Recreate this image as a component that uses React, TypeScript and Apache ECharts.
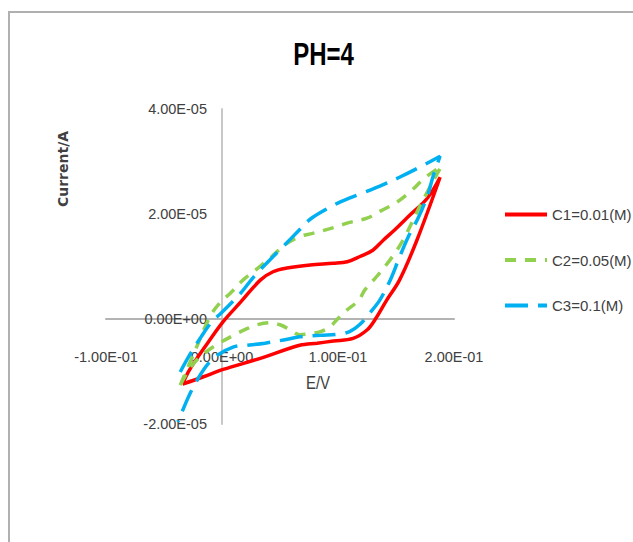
import React, { useEffect, useRef } from "react";
import * as echarts from "echarts";

// ---- data (potential in V, current in A) ----
const xTicks = [-0.1, 0, 0.1, 0.2];
const yTicks = [-2e-5, 0, 2e-5, 4e-5];

const seriesNames = ["C1=0.01(M)", "C2=0.05(M)", "C3=0.1(M)"];

const c1Potential = [
  -0.034, -0.028, -0.014, 0.001, 0.016, 0.033, 0.044, 0.056, 0.076, 0.096, 0.108, 0.119, 0.13, 0.139, 0.149, 0.162, 0.177, 0.188,
  0.168, 0.153, 0.142, 0.132, 0.125, 0.113, 0.096, 0.082, 0.067, 0.033, 0.001, -0.016, -0.034,
];
const c1Current = [
  -1.24e-5, -0.97e-5, -0.51e-5, -0.05e-5, 0.32e-5, 0.74e-5, 0.9e-5, 0.97e-5, 1.03e-5, 1.06e-5, 1.09e-5, 1.19e-5, 1.31e-5, 1.5e-5, 1.7e-5, 1.98e-5, 2.3e-5, 2.7e-5,
  1.5e-5, 0.74e-5, 0.36e-5, -0.01e-5, -0.21e-5, -0.37e-5, -0.42e-5, -0.46e-5, -0.5e-5, -0.75e-5, -0.96e-5, -1.1e-5, -1.24e-5,
];

const c2Potential = [
  -0.036, -0.023, -0.01, -0.002, 0.008, 0.018, 0.031, 0.043, 0.054, 0.067, 0.078, 0.096, 0.11, 0.125, 0.137, 0.151, 0.162, 0.175, 0.189,
  0.172, 0.156, 0.146, 0.133, 0.123, 0.118, 0.106, 0.1, 0.093, 0.085, 0.076, 0.067, 0.059, 0.05, 0.041, 0.03, 0.022, 0.01, -0.006, -0.019, -0.028, -0.036,
];
const c2Current = [
  -1.26e-5, -0.59e-5, 0.06e-5, 0.3e-5, 0.51e-5, 0.74e-5, 0.97e-5, 1.19e-5, 1.41e-5, 1.57e-5, 1.63e-5, 1.74e-5, 1.84e-5, 1.92e-5, 2.06e-5, 2.23e-5, 2.42e-5, 2.69e-5, 2.91e-5,
  2.21e-5, 1.5e-5, 1.16e-5, 0.8e-5, 0.55e-5, 0.36e-5, 0.14e-5, 0.01e-5, -0.15e-5, -0.24e-5, -0.28e-5, -0.3e-5, -0.21e-5, -0.11e-5, -0.07e-5, -0.11e-5, -0.18e-5, -0.31e-5, -0.51e-5, -0.72e-5, -0.95e-5, -1.26e-5,
];

const c3Potential = [
  -0.036, -0.028, -0.018, -0.009, 0.0, 0.016, 0.028, 0.041, 0.054, 0.066, 0.076, 0.089, 0.102, 0.119, 0.136, 0.153, 0.171, 0.188,
  0.182, 0.177, 0.169, 0.16, 0.152, 0.145, 0.136, 0.128, 0.119, 0.11, 0.1, 0.085, 0.067, 0.053, 0.037, 0.022, 0.01, -0.006, -0.016, -0.026, -0.032, -0.038,
];
const c3Current = [
  -1.01e-5, -0.69e-5, -0.34e-5, -0.06e-5, 0.13e-5, 0.49e-5, 0.82e-5, 1.12e-5, 1.41e-5, 1.68e-5, 1.9e-5, 2.08e-5, 2.23e-5, 2.38e-5, 2.53e-5, 2.7e-5, 2.9e-5, 3.1e-5,
  2.72e-5, 2.34e-5, 1.92e-5, 1.54e-5, 1.12e-5, 0.74e-5, 0.36e-5, 0.13e-5, -0.1e-5, -0.24e-5, -0.29e-5, -0.31e-5, -0.34e-5, -0.4e-5, -0.46e-5, -0.5e-5, -0.53e-5, -0.72e-5, -0.97e-5, -1.35e-5, -1.64e-5, -1.96e-5,
];

const FONT = "'Liberation Sans', Arial, sans-serif";

function fmt(v: number): string {
  if (Math.abs(v) < 1e-15) return "0.00E+00";
  const s = v.toExponential(2);
  const [m, e] = s.split("e");
  const sign = e[0] === "-" ? "-" : "+";
  const digits = e.replace(/[+-]/, "").padStart(2, "0");
  return `${m}E${sign}${digits}`;
}

function pairs(xs: number[], ys: number[]) {
  return xs.map((x, i) => [x, ys[i]]);
}

export default function App() {
  const ref = useRef<HTMLDivElement>(null);
  useEffect(() => {
    if (!ref.current) return;
    const chart = echarts.init(ref.current, undefined, { renderer: "svg" });
    const axisLabelBase = { fontFamily: FONT, fontSize: 14.5, color: "#404040", showMinLabel: true, showMaxLabel: true, formatter: fmt };
    const lineCommon = { type: "line", symbol: "none", showSymbol: false, smooth: 0.35, clip: false };
    chart.setOption({
      animation: false,
      backgroundColor: "#ffffff",
      grid: { left: 106, top: 109, width: 348, height: 315 },
      xAxis: {
        type: "value",
        min: xTicks[0],
        max: xTicks[xTicks.length - 1],
        interval: xTicks[1] - xTicks[0],
        axisLine: { onZero: true, lineStyle: { color: "#b3b3b3", width: 2 } },
        axisTick: { show: false },
        splitLine: { show: false },
        axisLabel: { ...axisLabelBase, margin: -75 },
      },
      yAxis: {
        type: "value",
        min: yTicks[0],
        max: yTicks[yTicks.length - 1],
        interval: yTicks[1] - yTicks[0],
        axisLine: { show: true, onZero: true, lineStyle: { color: "#c8c8c8", width: 2 } },
        axisTick: { show: false },
        splitLine: { show: false },
        axisLabel: { ...axisLabelBase, margin: -101 },
      },
      legend: {
        orient: "vertical",
        left: 503,
        top: 207,
        padding: 0,
        itemWidth: 42,
        itemHeight: 14,
        itemGap: 30.5,
        itemStyle: { opacity: 0 },
        lineStyle: { width: 4 },
        textStyle: { fontFamily: FONT, fontSize: 15, color: "#404040" },
        data: seriesNames,
      },
      series: [
        {
          ...lineCommon,
          name: seriesNames[0],
          data: pairs(c1Potential, c1Current),
          lineStyle: { color: "#ff0000", width: 3.5 },
          itemStyle: { color: "#ff0000" },
          z: 2,
        },
        {
          ...lineCommon,
          name: seriesNames[1],
          data: pairs(c2Potential, c2Current),
          lineStyle: { color: "#92d050", width: 3.5, type: [11, 9] },
          itemStyle: { color: "#92d050" },
          z: 3,
        },
        {
          ...lineCommon,
          name: seriesNames[2],
          data: pairs(c3Potential, c3Current),
          lineStyle: { color: "#00b0f0", width: 3.5, type: [23, 10] },
          itemStyle: { color: "#00b0f0" },
          z: 4,
        },
      ],
      graphic: [
        {
          type: "rect",
          z: -10,
          shape: { x: 9, y: 12, width: 700, height: 600 },
          style: { fill: "none", stroke: "#b0b0b0", lineWidth: 2 },
        },
        {
          type: "text",
          x: 323.5,
          y: 54.5,
          scaleY: 1.3,
          style: { text: "PH=4", fontFamily: FONT, fontWeight: "bold", fontSize: 24, fill: "#000000", align: "center", verticalAlign: "middle" },
        },
        {
          type: "text",
          x: 62.5,
          y: 169,
          rotation: Math.PI / 2,
          style: { text: "Current/A", fontFamily: "'DejaVu Sans', sans-serif", fontWeight: "bold", fontSize: 14, fill: "#404040", align: "center", verticalAlign: "middle" },
        },
        {
          type: "text",
          x: 318,
          y: 383,
          scaleY: 1.2,
          style: { text: "E/V", fontFamily: FONT, fontSize: 15, fill: "#404040", align: "center", verticalAlign: "middle" },
        },
      ],
    });
    return () => chart.dispose();
  }, []);
  return <div ref={ref} style={{ position: "fixed", left: 0, top: 0, width: 633, height: 542 }} />;
}
